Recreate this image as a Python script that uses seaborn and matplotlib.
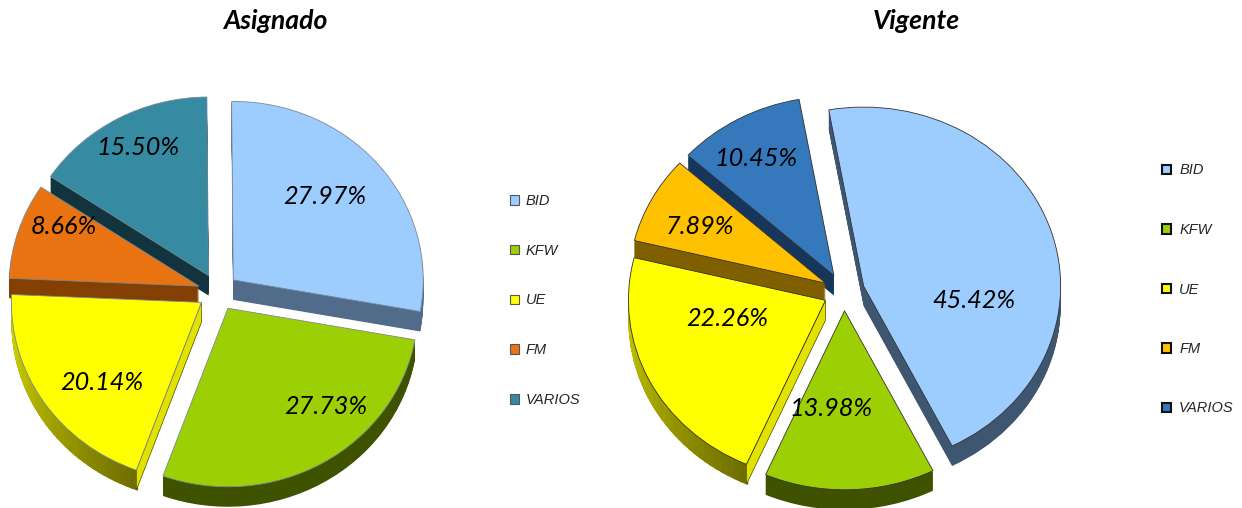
import numpy as np
import matplotlib.pyplot as plt
import seaborn as sns

labels = ["BID", "KFW", "UE", "FM", "VARIOS"]
asignado = [27.97, 27.73, 20.14, 8.66, 15.50]
vigente = [45.42, 13.98, 22.26, 7.89, 10.45]

colors_a = ["#9dcdff", "#9dcf05", "#ffff00", "#e97311", "#368ba3"]
sides_a = ["#506c8a", "#3e5200", "#a6a600", "#843f03", "#12343f"]
colors_v = ["#9dcdff", "#9dcf05", "#ffff00", "#ffc000", "#3579bc"]
sides_v = ["#3f5670", "#3e5200", "#a6a600", "#7f5f00", "#17365c"]

W, H = 1242, 508
sns.set_theme(style="white")
plt.rcParams['font.family'] = ['Lato', 'DejaVu Sans']

fig = plt.figure(figsize=(W / 100, H / 100), dpi=100)


def pie_3d(values, colors, sides, cx, cy, rx, ry, start, depth, edge):
    # axes box in pixels, data units are pie radii
    span = 1.3
    ax = fig.add_axes([(cx - span * rx) / W, 1 - (cy + span * ry) / H,
                       2 * span * rx / W, 2 * span * ry / H])
    ex = [0.105] * len(values)
    d = depth / ry
    wedges, _ = ax.pie(values, colors=colors, explode=ex, startangle=start, counterclock=False,
                       center=(0, 0), radius=1,
                       wedgeprops=dict(linewidth=0.6, edgecolor=edge))
    for w in wedges:
        w.set_zorder(5)
    # side walls: stack of darker pies going down
    for off in np.linspace(d, 0.01, 24):
        ax.pie(values, colors=sides, explode=ex, startangle=start, counterclock=False,
               center=(0, -off), radius=1, wedgeprops=dict(linewidth=0))

    # the yellow slice has a shaded wall and a bright cut face
    ue = wedges[2]
    c = np.array(ue.center)
    angles = np.radians(np.linspace(ue.theta1, ue.theta2, 40))
    shades = sns.blend_palette(["#e0e000", "#6f6f00"], len(angles) - 1)
    for a0, a1, col in zip(angles[:-1], angles[1:], shades):
        p0 = c + [np.cos(a0), np.sin(a0)]
        p1 = c + [np.cos(a1 + 0.01), np.sin(a1 + 0.01)]
        ax.fill([p0[0], p1[0], p1[0], p0[0]], [p0[1], p1[1], p1[1] - d, p0[1] - d],
                color=col, linewidth=0, zorder=3)
    tip = c + [np.cos(angles[-1]), np.sin(angles[-1])]
    ax.fill([c[0], tip[0], tip[0], c[0]], [c[1], tip[1], tip[1] - d, c[1] - d],
            facecolor="#e2e200", edgecolor="#55550a", linewidth=0.5, zorder=4)

    ax.set_aspect('auto')
    ax.set_xlim(-span, span)
    ax.set_ylim(-span, span)
    return ax, wedges


def px_text(x, y, s, size, **kw):
    fig.text(x / W, 1 - y / H, s, fontsize=size, style='italic', ha='center', va='center',
             color='#000000', zorder=10, **kw)


ax1, wedges1 = pie_3d(asignado, colors_a, sides_a, 218, 292, 190, 178.5, 90.5, 20, '#7a8a96')
ax2, wedges2 = pie_3d(vigente, colors_v, sides_v, 844, 292, 197, 179, 100.2, 20, '#333333')

px_text(275.5, 21, "Asignado", 19.2, fontweight='bold')
px_text(916.5, 21, "Vigente", 19.2, fontweight='bold')

label_pos_a = [(325, 196), (326, 407), (102, 383), (64, 227), (138, 148)]
label_pos_v = [(974, 300), (831, 408), (727, 319), (700, 227), (756, 158)]
for (x, y), v in zip(label_pos_a, asignado):
    px_text(x, y, f"{v:.2f}%", 18.2)
for (x, y), v in zip(label_pos_v, vigente):
    px_text(x, y, f"{v:.2f}%", 18.2)

# legends, spread out like the original
leg1 = fig.legend(wedges1, labels, loc='center left', bbox_to_anchor=(510 / W, 1 - 300.5 / H),
                  frameon=False, prop=dict(family='Liberation Sans', style='italic', size=10.5),
                  handlelength=0.62, handleheight=0.62, handletextpad=0.48, labelspacing=2.45,
                  borderpad=0, borderaxespad=0)
leg2 = fig.legend(wedges2, labels, loc='center left', bbox_to_anchor=(1162 / W, 1 - 289.5 / H),
                  frameon=False, prop=dict(family='Liberation Sans', style='italic', size=10.5),
                  handlelength=0.62, handleheight=0.62, handletextpad=0.55, labelspacing=3.12,
                  borderpad=0, borderaxespad=0)
for h in leg1.legend_handles:
    h.set_edgecolor('#555555')
    h.set_linewidth(0.8)
for h in leg2.legend_handles:
    h.set_edgecolor('#111111')
    h.set_linewidth(1.5)

plt.savefig("out.png", dpi=100)
